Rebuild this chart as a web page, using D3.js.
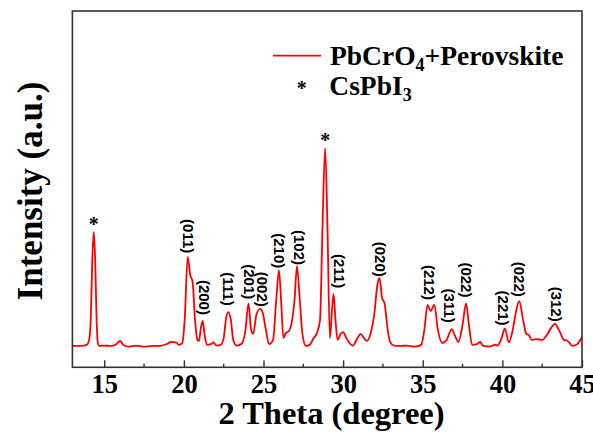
<!DOCTYPE html>
<html>
<head>
<meta charset="utf-8">
<script src="https://cdn.jsdelivr.net/npm/d3@7"></script>
<style>
  body { margin: 0; background: #fff; }
  text { fill: #000; }
</style>
</head>
<body>
<svg id="chart" width="593" height="434"></svg>
<script>

// XRD pattern: 2 theta (degree) and intensity (a.u.)
var twoTheta = [13.0, 13.5, 13.9, 14.05, 14.15, 14.25, 14.34, 14.43, 14.52, 14.6, 14.7, 15.0, 15.4, 15.7, 16.0, 16.2, 16.5, 17.0, 17.5, 18.0,
	18.5, 18.9, 19.2, 19.5, 19.7, 19.9, 20.05, 20.24, 20.4, 20.55, 20.7, 20.85, 20.95, 21.05, 21.18, 21.3, 21.45, 21.7, 21.85, 22.05,
	22.3, 22.5, 22.65, 22.79, 22.95, 23.1, 23.3, 23.6, 23.85, 24.06, 24.22, 24.35, 24.55, 24.78, 24.95, 25.15, 25.35, 25.6, 25.8, 25.97,
	26.12, 26.25, 26.4, 26.6, 26.8, 26.95, 27.1, 27.28, 27.45, 27.66, 27.9, 28.15, 28.35, 28.55, 28.7, 28.87, 29.02, 29.17, 29.28, 29.4,
	29.52, 29.65, 29.85, 30.0, 30.2, 30.6, 30.9, 31.1, 31.3, 31.5, 31.75, 31.95, 32.15, 32.28, 32.45, 32.6, 32.8, 32.95, 33.2, 33.6,
	34.0, 34.5, 34.9, 35.1, 35.3, 35.5, 35.73, 35.95, 36.23, 36.5, 36.82, 37.0, 37.24, 37.5, 37.72, 37.9, 38.1, 38.4, 38.6, 38.8,
	39.2, 39.5, 39.7, 39.95, 40.16, 40.4, 40.65, 40.85, 41.06, 41.3, 41.5, 41.65, 41.85, 42.1, 42.5, 42.8, 43.05, 43.3, 43.55, 43.86,
	44.1, 44.4, 44.7, 45.0];
var intensity = [60, 60, 63, 77, 133, 301, 380, 301, 133, 68, 60, 61, 60, 63, 74, 63, 58, 61, 58, 60,
	60, 65, 71, 70, 63, 68, 133, 310, 259, 239, 133, 77, 74, 105, 130, 91, 63, 65, 70, 61,
	63, 82, 138, 155, 133, 77, 61, 65, 99, 179, 105, 94, 147, 164, 153, 105, 65, 77, 189, 273,
	175, 82, 96, 102, 133, 189, 284, 189, 91, 60, 63, 82, 96, 133, 385, 615, 385, 82, 147, 206,
	133, 77, 94, 99, 82, 61, 82, 94, 82, 74, 99, 147, 231, 251, 194, 180, 105, 71, 61, 60,
	61, 58, 63, 105, 175, 158, 176, 105, 68, 77, 107, 91, 71, 119, 179, 119, 63, 65, 71, 60,
	58, 63, 61, 82, 109, 70, 105, 155, 186, 133, 94, 91, 77, 79, 77, 91, 110, 122, 105, 77,
	74, 60, 65, 85];

// CsPbI3 reflections marked with a star
var starPeaks = [14.34, 28.87];
var starHeights = [380, 615];

// PbCrO4 reflections: label text, 2 theta and the intensity where the label ends
var hklLabels = ["(011)", "(200)", "(111)", "(201)", "(002)", "(210)", "(102)", "(211)",
	"(020)", "(212)", "(311)", "(022)", "(221)", "(022)", "(312)"];
var hklTheta = [20.27, 21.27, 22.78, 24.10, 24.91, 26.02, 27.23, 29.73,
	32.30, 35.43, 36.64, 37.74, 40.03, 41.08, 43.38];
var hklEnd = [320, 147, 173, 191, 170, 278, 287, 222,
	254, 189, 125, 196, 117, 198, 128];

var xTicks = [15, 20, 25, 30, 35, 40, 45];


var svg = d3.select("#chart");

var plotLeft = 72.4, plotRight = 582, plotTop = 11, plotBottom = 367.3;

var x = d3.scaleLinear().domain([13, 45]).range([plotLeft, plotRight]);
var y = d3.scaleLinear().domain([0, 1000]).range([plotBottom, plotTop]);

var points = twoTheta.map(function(t, i) { return [t, intensity[i]]; });

// spectrum
var line = d3.line()
	.x(function(d) { return x(d[0]); })
	.y(function(d) { return y(d[1]); })
	.curve(d3.curveMonotoneX);

svg.append("path")
	.datum(points)
	.attr("d", line)
	.attr("fill", "none")
	.attr("stroke", "#ff0000")
	.attr("stroke-width", 1.8)
	.attr("stroke-linejoin", "round");

// frame
svg.append("rect")
	.attr("x", plotLeft)
	.attr("y", plotTop)
	.attr("width", plotRight - plotLeft)
	.attr("height", plotBottom - plotTop)
	.attr("fill", "none")
	.attr("stroke", "#333")
	.attr("stroke-width", 1.6);

// bottom axis, ticks pointing inwards
var xAxis = d3.axisBottom(x)
	.tickValues(xTicks)
	.tickSize(-7)
	.tickPadding(7)
	.tickFormat(d3.format("d"));

var gx = svg.append("g")
	.attr("transform", "translate(0," + plotBottom + ")")
	.call(xAxis);

gx.select(".domain").remove();
gx.selectAll(".tick line").attr("stroke", "#333").attr("stroke-width", 1.4);
gx.selectAll(".tick text")
	.attr("font-family", "'Liberation Serif', 'Times New Roman', serif")
	.attr("font-weight", "bold")
	.attr("font-size", 26.5)
	.attr("fill", "#000");

var minor = d3.range(17.5, 45, 5);
svg.append("g").selectAll("line")
	.data(minor)
	.enter().append("line")
	.attr("x1", function(d) { return x(d); })
	.attr("x2", function(d) { return x(d); })
	.attr("y1", plotBottom)
	.attr("y2", plotBottom - 3.5)
	.attr("stroke", "#333")
	.attr("stroke-width", 1.4);

// axis titles
svg.append("text")
	.attr("x", 331.5)
	.attr("y", 424)
	.attr("text-anchor", "middle")
	.attr("font-family", "'Liberation Serif', 'Times New Roman', serif")
	.attr("font-weight", "bold")
	.attr("font-size", 32.5)
	.text("2 Theta (degree)");

svg.append("text")
	.attr("transform", "translate(41.5,191) rotate(-90)")
	.attr("text-anchor", "middle")
	.attr("font-family", "'Liberation Serif', 'Times New Roman', serif")
	.attr("font-weight", "bold")
	.attr("font-size", 35)
	.text("Intensity (a.u.)");

// stars over the CsPbI3 peaks
svg.append("g").selectAll("text")
	.data(starPeaks)
	.enter().append("text")
	.attr("x", function(d) { return x(d); })
	.attr("y", function(d, i) { return y(starHeights[i]) - 1; })
	.attr("text-anchor", "middle")
	.attr("font-family", "'Liberation Serif', 'Times New Roman', serif")
	.attr("font-weight", "bold")
	.attr("font-size", 20)
	.text("*");

// hkl labels, rotated
svg.append("g").selectAll("text")
	.data(hklLabels)
	.enter().append("text")
	.attr("transform", function(d, i) {
		return "translate(" + x(hklTheta[i]) + "," + y(hklEnd[i]) + ") rotate(90)";
	})
	.attr("dy", "0.35em")
	.attr("text-anchor", "end")
	.attr("font-family", "'Liberation Sans', Arial, sans-serif")
	.attr("font-weight", "bold")
	.attr("font-size", 15)
	.text(function(d) { return d; });

// legend
var legend = svg.append("g");

legend.append("line")
	.attr("x1", 273).attr("x2", 321)
	.attr("y1", 55.7).attr("y2", 55.7)
	.attr("stroke", "#ff0000")
	.attr("stroke-width", 1.8);

var t1 = legend.append("text")
	.attr("x", 330).attr("y", 65)
	.attr("font-family", "'Liberation Serif', 'Times New Roman', serif")
	.attr("font-weight", "bold")
	.attr("font-size", 27.5);
t1.append("tspan").text("PbCrO");
t1.append("tspan").attr("font-size", 18).attr("dy", 6).text("4");
t1.append("tspan").attr("dy", -6).text("+Perovskite");

legend.append("text")
	.attr("x", 301.7).attr("y", 95)
	.attr("text-anchor", "middle")
	.attr("font-family", "'Liberation Serif', 'Times New Roman', serif")
	.attr("font-weight", "bold")
	.attr("font-size", 20)
	.text("*");

var t2 = legend.append("text")
	.attr("x", 329.3).attr("y", 95)
	.attr("font-family", "'Liberation Serif', 'Times New Roman', serif")
	.attr("font-weight", "bold")
	.attr("font-size", 27.5);
t2.append("tspan").text("CsPbI");
t2.append("tspan").attr("font-size", 18).attr("dy", 6).text("3");

</script>
</body>
</html>
